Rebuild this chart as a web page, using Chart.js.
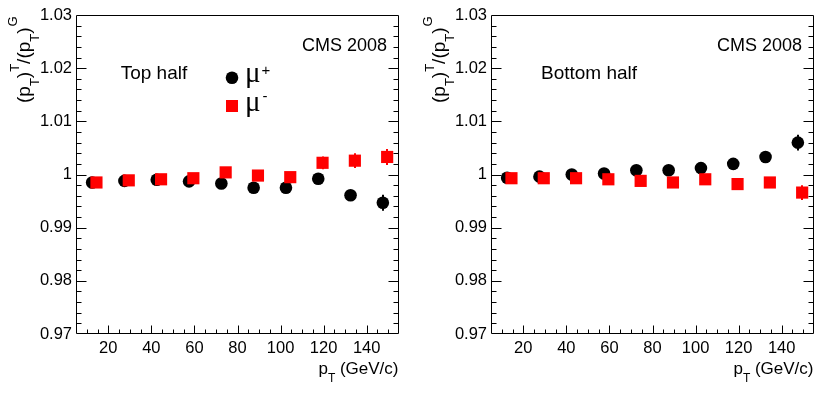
<!DOCTYPE html>
<html>
<head>
<meta charset="utf-8">
<script src="https://cdn.jsdelivr.net/npm/chart.js@4/dist/chart.umd.min.js"></script>
<style>
html,body{margin:0;padding:0;background:#fff;}
#wrap{display:flex;width:830px;height:397px;background:#fff;}
.box{position:relative;width:415px;height:397px;}
canvas{display:block;}
</style>
</head>
<body>
<div id="wrap">
  <div class="box"><canvas id="c1" width="415" height="397"></canvas></div>
  <div class="box"><canvas id="c2" width="415" height="397"></canvas></div>
</div>
<script>
// ---- data ----
const ptMuPlus  = [12.5, 27.5, 42.5, 57.5, 72.5, 87.5, 102.5, 117.5, 132.5, 147.5];
const ptMuMinus = [14.5, 29.5, 44.5, 59.5, 74.5, 89.5, 104.5, 119.5, 134.5, 149.5];

const topMuPlus     = [0.9985, 0.9988, 0.9990, 0.9987, 0.9983, 0.9975, 0.9975, 0.9992, 0.9961, 0.9947];
const topMuPlusErr  = [0.0003, 0.0003, 0.0003, 0.0004, 0.0005, 0.0005, 0.0006, 0.0007, 0.0009, 0.0015];
const topMuMinus    = [0.9985, 0.9989, 0.9991, 0.9993, 1.0004, 0.9998, 0.9995, 1.0022, 1.0026, 1.0033];
const topMuMinusErr = [0.0003, 0.0003, 0.0003, 0.0004, 0.0005, 0.0005, 0.0006, 0.0012, 0.0014, 0.0015];

const botMuPlus     = [0.9994, 0.9996, 1.0000, 1.0002, 1.0008, 1.0008, 1.0012, 1.0020, 1.0033, 1.0060];
const botMuPlusErr  = [0.0003, 0.0003, 0.0003, 0.0004, 0.0005, 0.0005, 0.0006, 0.0007, 0.0009, 0.0015];
const botMuMinus    = [0.9993, 0.9993, 0.9993, 0.9991, 0.9988, 0.9985, 0.9991, 0.9982, 0.9985, 0.9966];
const botMuMinusErr = [0.0003, 0.0003, 0.0003, 0.0004, 0.0005, 0.0005, 0.0006, 0.0007, 0.0009, 0.0014];

const xTickValues = [20, 40, 60, 80, 100, 120, 140];
const xTickLabels = ['20', '40', '60', '80', '100', '120', '140'];
const yTickValues = [0.97, 0.98, 0.99, 1.00, 1.01, 1.02, 1.03];
const yTickLabels = ['0.97', '0.98', '0.99', '1', '1.01', '1.02', '1.03'];

const seriesLabels = ['\u03BC', '\u03BC'];
const seriesSup = ['+', '-'];

// ---- styling ----
const SANS = '"Liberation Sans", Arial, Helvetica, sans-serif';
const SERIF = '"Liberation Serif", "Times New Roman", serif';

function drawRich(ctx, segs, x, y, angle) {
  ctx.save();
  ctx.translate(x, y);
  if (angle) ctx.rotate(angle);
  let cx = 0;
  for (const s of segs) {
    ctx.font = s.font;
    ctx.fillText(s.t, cx, s.dy || 0);
    cx += ctx.measureText(s.t).width + (s.gap || 0);
  }
  ctx.restore();
}
function richWidth(ctx, segs) {
  let w = 0;
  ctx.save();
  for (const s of segs) { ctx.font = s.font; w += ctx.measureText(s.t).width + (s.gap || 0); }
  ctx.restore();
  return w;
}

const rootPlugin = {
  id: 'rootFrame',
  beforeDatasetsDraw(chart) {
    const ctx = chart.ctx, xs = chart.scales.x, ys = chart.scales.y;
    ctx.save();
    ctx.lineWidth = 2;
    chart.data.datasets.forEach(ds => {
      ctx.strokeStyle = ds.backgroundColor;
      ds.data.forEach((p, i) => {
        const e = ds.errors[i];
        const px = Math.round(xs.getPixelForValue(p.x));
        ctx.beginPath();
        ctx.moveTo(px, ys.getPixelForValue(p.y - e));
        ctx.lineTo(px, ys.getPixelForValue(p.y + e));
        ctx.stroke();
      });
    });
    ctx.restore();
  },
  afterDraw(chart, args, opts) {
    const ctx = chart.ctx, a = chart.chartArea, xs = chart.scales.x, ys = chart.scales.y;
    const L = Math.round(a.left) + 0.5, R = Math.round(a.right) - 0.5;
    const T = Math.round(a.top) + 0.5, B = Math.round(a.bottom) - 0.5;
    ctx.save();
    ctx.strokeStyle = '#000';
    ctx.lineWidth = 1;
    ctx.beginPath();
    ctx.rect(L, T, R - L, B - T);
    // x ticks
    for (let v = 10; v <= 150; v += 5) {
      const px = Math.round(xs.getPixelForValue(v)) + 0.5;
      const len = (v % 20 === 0) ? 8 : 4;
      ctx.moveTo(px, B); ctx.lineTo(px, B - len);
    }
    // y ticks
    for (let i = 1; i < 30; i++) {
      const v = 0.97 + i * 0.002;
      const py = Math.round(ys.getPixelForValue(v)) + 0.5;
      const len = (i % 5 === 0) ? 10 : 5;
      ctx.moveTo(L, py); ctx.lineTo(L + len, py);
      ctx.moveTo(R, py); ctx.lineTo(R - len, py);
    }
    ctx.stroke();

    ctx.fillStyle = '#000';
    ctx.textBaseline = 'alphabetic';
    ctx.textAlign = 'left';
    // y title
    const yt = [
      {t: '(p', font: '19px ' + SANS},
      {t: 'T', font: '13px ' + SANS, dy: 9},
      {t: ')', font: '19px ' + SANS},
      {t: 'T', font: '13px ' + SANS, dy: -11},
      {t: '/(p', font: '19px ' + SANS},
      {t: 'T', font: '13px ' + SANS, dy: 9},
      {t: ')', font: '19px ' + SANS, gap: 1},
      {t: 'G', font: '13px ' + SANS, dy: -13}
    ];
    drawRich(ctx, yt, 29.5, 103, -Math.PI / 2);
    // x title
    const xt = [
      {t: 'p', font: '17px ' + SANS},
      {t: 'T', font: '12px ' + SANS, dy: 8},
      {t: ' (GeV/c)', font: '17px ' + SANS}
    ];
    drawRich(ctx, xt, R - richWidth(ctx, xt), 373.5, 0);
    // CMS label
    ctx.font = '18px ' + SANS;
    ctx.textAlign = 'right';
    ctx.fillText('CMS 2008', 387, 50.5);
    ctx.textAlign = 'left';
    ctx.font = '19px ' + SANS;
    ctx.fillText(opts.title, opts.titleX, 78.5);

    if (opts.legend) {
      const ds = chart.data.datasets;
      const lx = 232;
      ctx.fillStyle = ds[0].backgroundColor;
      ctx.beginPath(); ctx.arc(lx, 77.7, 6.3, 0, Math.PI * 2); ctx.fill();
      ctx.fillStyle = ds[1].backgroundColor;
      ctx.fillRect(lx - 6, 100, 12, 12);
      ctx.fillStyle = '#000';
      ctx.font = '29px ' + SERIF;
      ctx.fillText(seriesLabels[0], 245, 82);
      ctx.fillText(seriesLabels[1], 245, 110.5);
      ctx.font = '15px ' + SANS;
      ctx.fillText(seriesSup[0], 261.5, 75);
      ctx.fillText(seriesSup[1], 262.5, 101);
    }
    ctx.restore();
  }
};

function makeChart(id, plusVals, plusErr, minusVals, minusErr, cfg) {
  return new Chart(document.getElementById(id), {
    type: 'scatter',
    data: {
      datasets: [
        { label: 'mu+', data: ptMuPlus.map((x, i) => ({x: x, y: plusVals[i]})), errors: plusErr,
          pointStyle: 'circle', pointRadius: 6.3, pointHoverRadius: 6.3, pointBorderWidth: 0,
          backgroundColor: '#000000', borderColor: '#000000', order: 1 },
        { label: 'mu-', data: ptMuMinus.map((x, i) => ({x: x, y: minusVals[i]})), errors: minusErr,
          pointStyle: 'rect', pointRadius: 8.6, pointHoverRadius: 8.6, pointBorderWidth: 0,
          backgroundColor: '#ff0000', borderColor: '#ff0000', order: 0 }
      ]
    },
    options: {
      responsive: false,
      animation: false,
      events: [],
      layout: { padding: { left: 0, right: 16, top: 15, bottom: 0 } },
      plugins: { legend: { display: false }, tooltip: { enabled: false }, rootFrame: cfg },
      scales: {
        x: {
          type: 'linear', min: 5, max: 155,
          grid: { display: false, drawTicks: false },
          border: { display: false },
          afterBuildTicks: s => { s.ticks = xTickValues.map(v => ({value: v})); },
          afterFit: s => { s.height = 63; },
          ticks: { font: { family: SANS, size: 16.5 }, color: '#000', padding: 5, maxRotation: 0, autoSkip: false,
                   callback: (v, i) => xTickLabels[i] }
        },
        y: {
          type: 'linear', min: 0.97, max: 1.03,
          grid: { display: false, drawTicks: false },
          border: { display: false },
          afterBuildTicks: s => { s.ticks = yTickValues.map(v => ({value: v})); },
          afterFit: s => { s.width = 76; },
          ticks: { font: { family: SANS, size: 16.5 }, color: '#000', padding: 4, autoSkip: false,
                   callback: (v, i) => yTickLabels[i] }
        }
      }
    },
    plugins: [rootPlugin]
  });
}

makeChart('c1', topMuPlus, topMuPlusErr, topMuMinus, topMuMinusErr, {title: 'Top half', titleX: 120.7, legend: true});
makeChart('c2', botMuPlus, botMuPlusErr, botMuMinus, botMuMinusErr, {title: 'Bottom half', titleX: 126, legend: false});
</script>
</body>
</html>
